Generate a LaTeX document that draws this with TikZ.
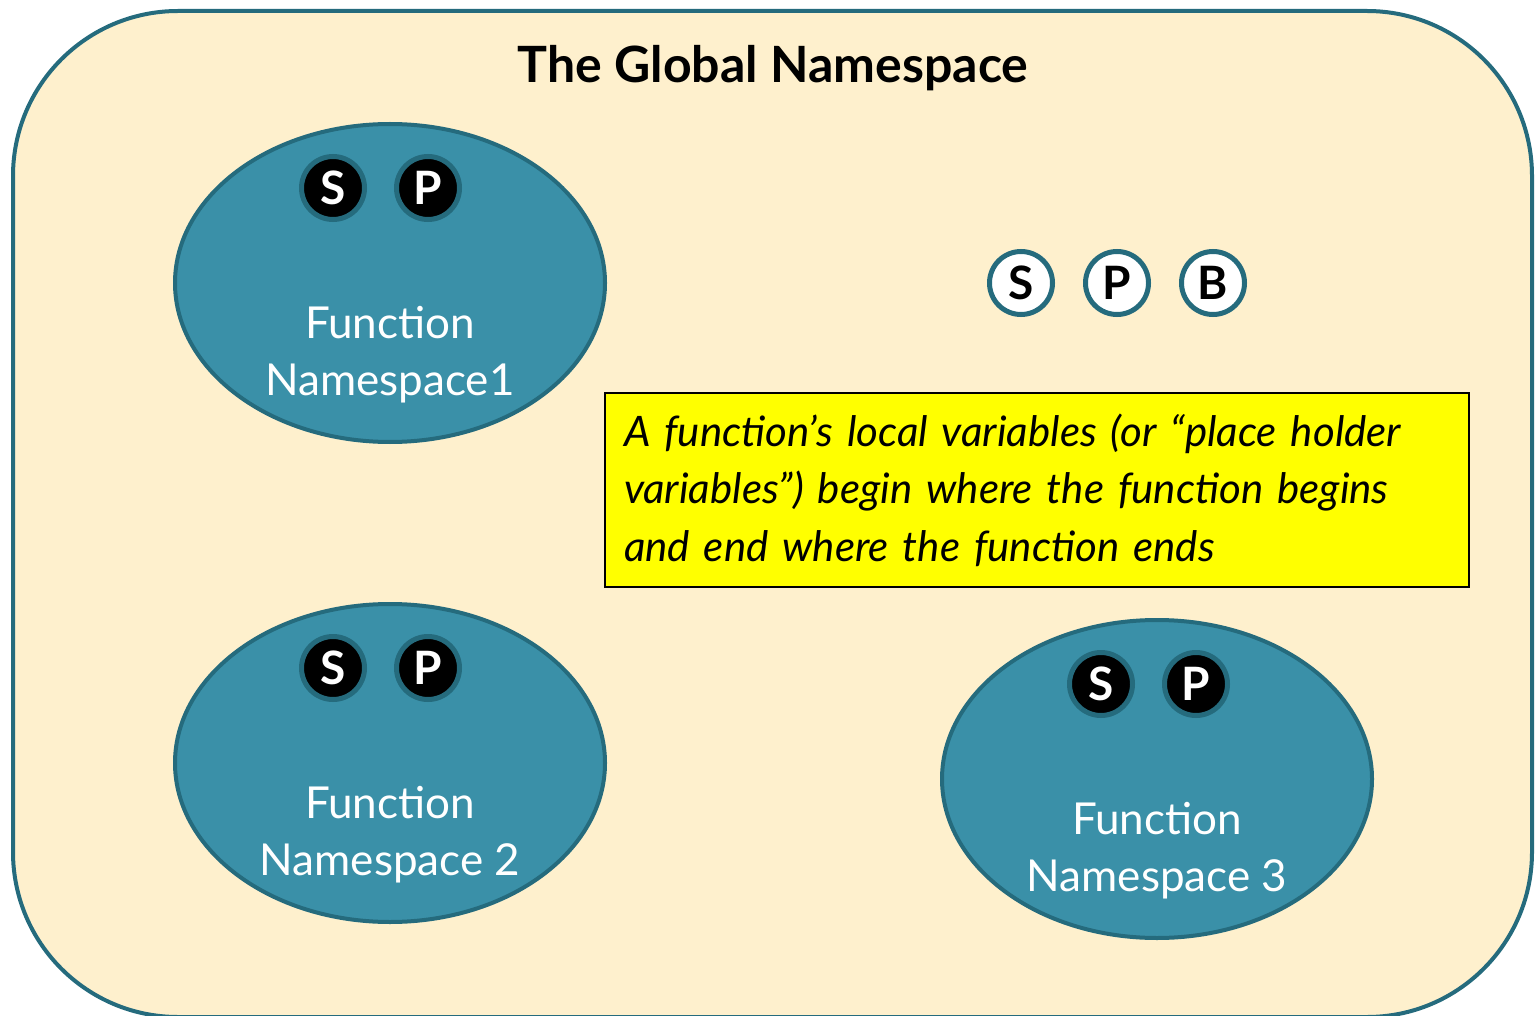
\documentclass[tikz,border=0pt]{standalone}
\usepackage{fontspec}
\setmainfont{Lato}
\usetikzlibrary{shapes.geometric}
\definecolor{bgtan}{HTML}{FEF0CD}
\definecolor{nsfill}{HTML}{3A90A8}
\definecolor{nsline}{HTML}{256B7D}
\definecolor{noteyel}{HTML}{FFFF00}
\begin{document}
\begin{tikzpicture}[x=1pt,y=-1pt,
  nsell/.style={ellipse, draw=nsline, fill=nsfill, line width=4pt, minimum width=430pt, minimum height=318pt, inner sep=0pt},
  varblack/.style={circle, fill=black, draw=nsline, line width=5pt, minimum size=63pt, inner sep=0pt, text=white, font=\fontsize{46}{46}\selectfont\bfseries},
  varwhite/.style={circle, fill=white, draw=nsline, line width=5pt, minimum size=63pt, inner sep=0pt, text=black, font=\fontsize{46}{46}\selectfont\bfseries},
  nslabel/.style={text=white, align=center, font=\fontsize{44}{57}\selectfont},
  note/.style={draw=black, fill=noteyel, line width=2pt, minimum width=864pt, minimum height=194pt, text width=826pt, align=left, inner sep=0pt, font=\fontsize{42}{57.5}\selectfont\itshape}
]
\useasboundingbox (0,0) rectangle (1536,1016);
\begin{scope}
\clip (0,0) rectangle (1536,1016);
\draw[draw=nsline, fill=bgtan, line width=4pt, rounded corners=165pt] (13,11) rectangle (1532,1017);
\end{scope}
\node[font=\fontsize{50}{50}\selectfont\bfseries] (title) at (773,68) {The Global Namespace};

\node[nsell] (ns1) at (390,283) {};
\node[nsell] (ns2) at (390,763) {};
\node[nsell] (ns3) at (1157,779) {};

\node[nslabel] (l1) at (390,355) {Function\\Namespace1};
\node[nslabel] (l2) at (390,835) {Function\\Namespace 2};
\node[nslabel] (l3) at (1157,851) {Function\\Namespace 3};

\node[varblack] (s1) at (333,188) {S};
\node[varblack] (p1) at (428,188) {P};
\node[varblack] (s2) at (333,668) {S};
\node[varblack] (p2) at (428,668) {P};
\node[varblack] (s3) at (1101,684) {S};
\node[varblack] (p3) at (1196,684) {P};

\node[varwhite] (gs) at (1021,283) {S};
\node[varwhite] (gp) at (1117,283) {P};
\node[varwhite] (gb) at (1213,283) {B};

\node[note] (box) at (1037,490) {A function’s local variables (or “place holder\\variables”) begin where the function begins\\and end where the function ends};
\end{tikzpicture}
\end{document}
